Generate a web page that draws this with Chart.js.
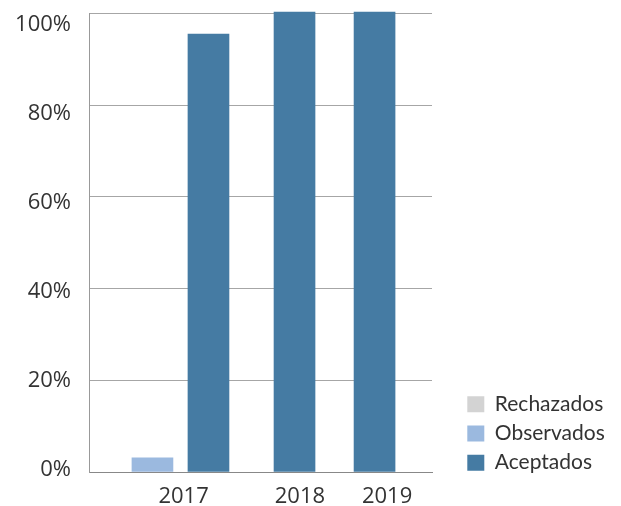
<!DOCTYPE html>
<html><head><meta charset="utf-8">
<script src="https://cdn.jsdelivr.net/npm/chart.js@4"></script>
<style>html,body{margin:0;padding:0;background:#fff}</style>
</head><body>
<canvas id="c" width="621" height="506"></canvas>
<script>
// ---- data ----
const categories = ['2017', '2018', '2019'];
const rechazados = [null, null, null];
const observados = [3.1, null, null];
const aceptados = [95.5, 100.3, 100.3];
const yTickValues = [0, 20, 40, 60, 80, 100];

// ---- layout: placement along the x axis (axis units 0–12) ----
const xRechazados = [null, null, null];
const xObservados = [2.22, null, null];
const xAceptados = [4.18, 7.19, 9.99];
const xLabelPos = [3.31, 7.38, 10.43];

// legend box geometry
const LEGEND_WIDTH = 189;
const LEGEND_SHIFT_X = 27.1;
const LEGEND_SHIFT_Y = 9.4;

function points(xs, ys) {
  const out = [];
  ys.forEach((v, i) => { if (v !== null && xs[i] !== null) out.push({x: xs[i], y: v}); });
  return out;
}

const tickFont = {family: "'Open Sans', sans-serif", size: 22, weight: 400};
const legendFont = {family: "Lato, 'Open Sans', sans-serif", size: 21};
const textColor = '#333333';

const legendPlacement = {
  id: 'legendPlacement',
  beforeInit(chart) {
    const lg = chart.legend;
    const fit = lg.fit;
    lg.fit = function () { fit.call(this); this.width = LEGEND_WIDTH; };
  },
  afterLayout(chart) {
    const lg = chart.legend;
    lg.left += LEGEND_SHIFT_X;
    lg.top += LEGEND_SHIFT_Y;
    lg.bottom += LEGEND_SHIFT_Y;
  }
};

new Chart(document.getElementById('c'), {
  type: 'bar',
  data: {
    datasets: [
      {label: 'Rechazados', data: points(xRechazados, rechazados), backgroundColor: '#d3d3d3', clip: false},
      {label: 'Observados', data: points(xObservados, observados), backgroundColor: '#9bb9df', clip: false},
      {label: 'Aceptados', data: points(xAceptados, aceptados), backgroundColor: '#457ba3', clip: false}
    ]
  },
  plugins: [legendPlacement],
  options: {
    responsive: false,
    animation: false,
    devicePixelRatio: 1,
    layout: {padding: {left: 15, top: 13.5, right: 0, bottom: 0}},
    datasets: {bar: {barThickness: 41, grouped: false, borderWidth: 0}},
    scales: {
      x: {
        type: 'linear', min: 0, max: 12, offset: false,
        grid: {display: false, offset: false, drawTicks: false},
        border: {display: true, color: '#888888', width: 1},
        afterBuildTicks: s => { s.ticks = xLabelPos.map(v => ({value: v})); },
        afterFit: s => { s.height = 34; },
        ticks: {padding: 11.4, autoSkip: false, maxRotation: 0, font: tickFont, color: textColor,
                callback: (v, i) => categories[i]}
      },
      y: {
        type: 'linear', min: 0, max: 100, position: 'left', weight: 0,
        ticks: {display: false, stepSize: 20},
        grid: {color: '#a6a6a6', drawTicks: false, lineWidth: 1},
        border: {display: true, color: '#999999', width: 1},
        afterFit: s => { s.width = 18; }
      },
      y2: {
        type: 'linear', min: -0.47, max: 102.47, position: 'left', weight: 1,
        grid: {display: false, drawTicks: false}, border: {display: false},
        afterBuildTicks: s => { s.ticks = yTickValues.map(v => ({value: v})); },
        afterFit: s => { s.width = 56; },
        ticks: {padding: 0, font: tickFont, color: textColor, callback: v => v + '%'}
      }
    },
    plugins: {
      legend: {
        position: 'right', align: 'end', fullSize: false,
        labels: {boxWidth: 17, boxHeight: 16, padding: 8.2, font: legendFont, color: textColor}
      },
      tooltip: {enabled: false}
    }
  }
});
</script>
</body></html>
